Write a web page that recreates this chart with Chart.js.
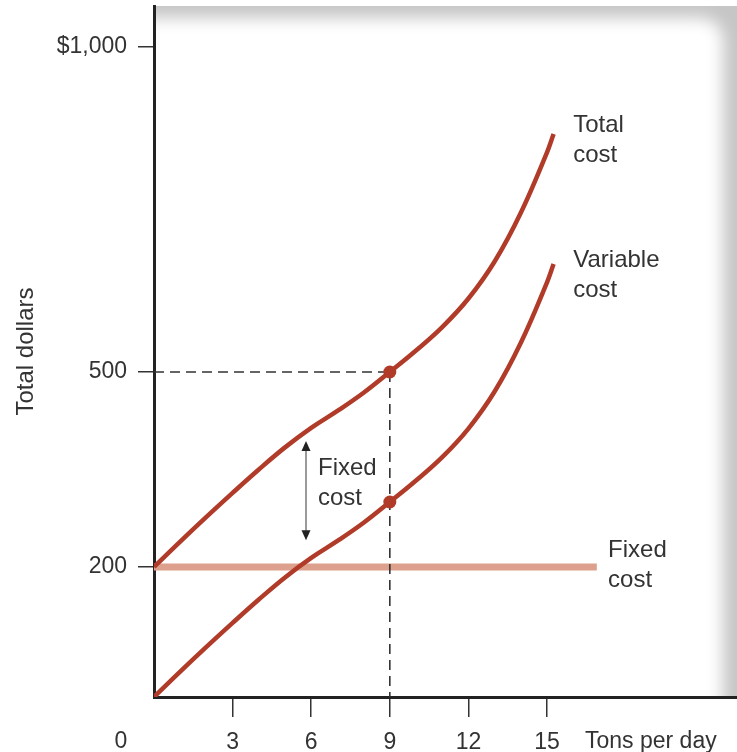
<!DOCTYPE html>
<html>
<head>
<meta charset="utf-8">
<title>Total, variable and fixed cost</title>
<script src="https://cdn.jsdelivr.net/npm/chart.js@4/dist/chart.umd.min.js"></script>
<style>
  html, body { margin: 0; padding: 0; background: #ffffff; }
  #wrap { width: 737px; height: 752px; }
</style>
</head>
<body>
<div id="wrap"><canvas id="cost" width="737" height="752"></canvas></div>
<script>
// Output in tons per day and the matching cost readings (dollars)
const tons = [0, 1, 2, 3, 4, 5, 6, 7, 8, 9, 10, 11, 12, 13, 14, 15, 15.25];
const totalCost = [200, 239, 277, 314, 350, 384, 414, 440, 468, 500, 533, 569, 613, 670, 745, 838, 866];
const variableCost = [0, 39, 77, 114, 150, 184, 214, 240, 268, 300, 333, 369, 413, 470, 545, 638, 666];
const fixedCost = 200;
const fixedCostEnd = 16.9;

// Highlighted output level and axis ticks
const markedTons = 9;
const xTicks = [3, 6, 9, 12, 15];
const yTicks = [200, 500, 1000];

const FONT = '"Liberation Sans", Arial, Helvetica, sans-serif';
const TEXT = '#333333';
const RED = '#b13b29';
const SALMON = '#dca08d';

const toPoints = (xs, ys) => xs.map((x, i) => ({ x: x, y: ys[i] }));
const tcAtMark = totalCost[tons.indexOf(markedTons)];
const vcAtMark = variableCost[tons.indexOf(markedTons)];

// Soft grey frame fading in from the top and right edges of the plot
const framePlugin = {
  id: 'frame',
  beforeDraw(chart) {
    const { ctx, chartArea: a } = chart;
    ctx.save();
    ctx.beginPath();
    ctx.rect(a.left, a.top, chart.width - a.left, a.bottom - a.top);
    ctx.clip();
    ctx.fillStyle = '#c6c6c6';
    ctx.fillRect(a.left, a.top, chart.width - a.left, a.bottom - a.top);
    ctx.filter = 'blur(8px)';
    ctx.fillStyle = '#ffffff';
    ctx.beginPath();
    ctx.roundRect(a.left - 60, a.top + 12, chart.width - a.left + 60 - 14, a.bottom - a.top + 80, 22);
    ctx.fill();
    ctx.restore();
  }
};

// Text labels, the fixed-cost arrow and the corner labels of the x axis
const notesPlugin = {
  id: 'notes',
  afterDraw(chart) {
    const { ctx } = chart;
    const xs = chart.scales.x, ys = chart.scales.y;
    const px = v => xs.getPixelForValue(v);
    const py = v => ys.getPixelForValue(v);

    ctx.save();
    // double-headed arrow spanning the fixed cost gap
    const ax = Math.round(px(5.8));
    const aTop = py(394), aBot = py(241);
    ctx.strokeStyle = '#9a9a9a';
    ctx.lineWidth = 2;
    ctx.beginPath();
    ctx.moveTo(ax, aTop + 6);
    ctx.lineTo(ax, aBot - 6);
    ctx.stroke();
    ctx.fillStyle = '#222222';
    ctx.beginPath();
    ctx.moveTo(ax, aTop);
    ctx.lineTo(ax - 4.5, aTop + 10);
    ctx.lineTo(ax + 4.5, aTop + 10);
    ctx.closePath();
    ctx.fill();
    ctx.beginPath();
    ctx.moveTo(ax, aBot);
    ctx.lineTo(ax - 4.5, aBot - 10);
    ctx.lineTo(ax + 4.5, aBot - 10);
    ctx.closePath();
    ctx.fill();

    ctx.fillStyle = TEXT;
    ctx.font = '24px ' + FONT;
    ctx.textBaseline = 'middle';
    ctx.textAlign = 'left';
    const block = (x, y, lines) => {
      lines.forEach((t, i) => ctx.fillText(t, px(x), py(y) + i * 30));
    };
    block(16.0, 880, ['Total', 'cost']);
    block(16.0, 672, ['Variable', 'cost']);
    block(17.33, 225, ['Fixed', 'cost']);
    block(6.26, 351, ['Fixed', 'cost']);

    // origin label and x-axis name on the tick-label row
    ctx.font = '23px ' + FONT;
    const rowY = 742;
    ctx.textAlign = 'center';
    ctx.fillText('0', 121, rowY);
    ctx.textAlign = 'left';
    ctx.fillText('Tons per day', 585, rowY);
    ctx.restore();
  }
};

new Chart(document.getElementById('cost'), {
  type: 'scatter',
  data: {
    datasets: [
      {
        label: 'Fixed cost',
        data: [{ x: 0, y: fixedCost }, { x: fixedCostEnd, y: fixedCost }],
        showLine: true,
        borderColor: SALMON,
        borderWidth: 7,
        borderCapStyle: 'butt',
        pointRadius: 0,
        order: 5
      },
      {
        label: 'Guide horizontal',
        data: [{ x: 0, y: tcAtMark }, { x: markedTons, y: tcAtMark }],
        showLine: true,
        borderColor: '#333333',
        borderWidth: 1.6,
        borderDash: [10, 6],
        pointRadius: 0,
        order: 4
      },
      {
        label: 'Guide vertical',
        data: [{ x: markedTons, y: tcAtMark }, { x: markedTons, y: 0 }],
        showLine: true,
        borderColor: '#333333',
        borderWidth: 1.6,
        borderDash: [10, 6],
        pointRadius: 0,
        order: 4
      },
      {
        label: 'Total cost',
        data: toPoints(tons, totalCost),
        showLine: true,
        borderColor: RED,
        borderWidth: 4.5,
        tension: 0.4,
        pointRadius: 0,
        order: 2
      },
      {
        label: 'Variable cost',
        data: toPoints(tons, variableCost),
        showLine: true,
        borderColor: RED,
        borderWidth: 4.5,
        tension: 0.4,
        pointRadius: 0,
        order: 2
      },
      {
        label: 'Marked output',
        data: [{ x: markedTons, y: tcAtMark }, { x: markedTons, y: vcAtMark }],
        showLine: false,
        pointRadius: 6.5,
        pointBackgroundColor: RED,
        pointBorderWidth: 0,
        order: 1
      }
    ]
  },
  options: {
    responsive: false,
    animation: false,
    events: [],
    layout: { autoPadding: false, padding: { top: 6, right: 0, left: 0, bottom: 0 } },
    plugins: { legend: { display: false }, tooltip: { enabled: false } },
    scales: {
      x: {
        type: 'linear',
        min: 0,
        max: 22.25,
        afterBuildTicks: s => { s.ticks = xTicks.map(v => ({ value: v })); },
        afterFit: s => { s.height = 55; s.paddingLeft = 0; s.paddingRight = 0; },
        grid: { drawOnChartArea: false, drawTicks: true, tickLength: 20, color: '#333333', lineWidth: 1.5 },
        border: { display: true, color: '#222222', width: 3 },
        ticks: { color: TEXT, font: { size: 23, family: FONT }, padding: 12, maxRotation: 0, autoSkip: false }
      },
      y: {
        type: 'linear',
        min: 0,
        max: 1063,
        afterBuildTicks: s => { s.ticks = yTicks.map(v => ({ value: v })); },
        afterFit: s => { s.width = 154; s.paddingTop = 0; s.paddingBottom = 0; },
        grid: { drawOnChartArea: false, drawTicks: true, tickLength: 16, color: '#333333', lineWidth: 1.5 },
        border: { display: true, color: '#222222', width: 3 },
        ticks: {
          color: TEXT,
          font: { size: 23, family: FONT },
          padding: 11,
          callback: v => (v === 1000 ? '$1,000' : String(v))
        },
        title: {
          display: true,
          text: 'Total dollars',
          color: TEXT,
          font: { size: 24, family: FONT },
          padding: { top: 12, bottom: 0 }
        }
      }
    }
  },
  plugins: [framePlugin, notesPlugin]
});
</script>
</body>
</html>
